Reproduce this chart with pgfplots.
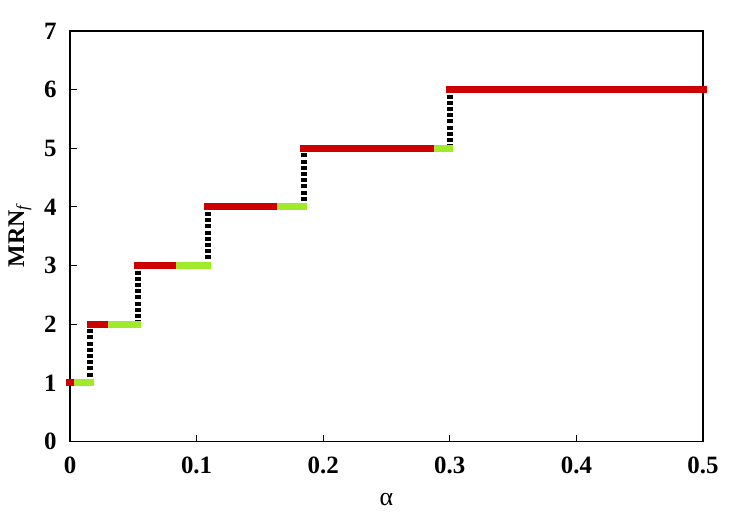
\documentclass[border=0pt]{standalone}
\usepackage{pgfplots}
\pgfplotsset{compat=1.18}
\usepackage{fontspec}
\setmainfont{Liberation Serif}
\definecolor{cred}{HTML}{CC0000}
\definecolor{cgreen}{HTML}{9FEB2A}
\begin{document}
\begin{tikzpicture}
\path[use as bounding box] (-70bp,-83.5bp) rectangle (680bp,441.5bp);
\begin{axis}[
  at={(0,0)}, anchor=south west,
  scale only axis, width=633bp, height=410.5bp,
  xmin=0, xmax=0.5, ymin=0, ymax=7,
  xtick={0,0.1,0.2,0.3,0.4,0.5},
  xticklabels={0,0.1,0.2,0.3,0.4,0.5},
  ytick={0,1,2,3,4,5,6,7},
  yticklabels={0,1,2,3,4,5,6,7},
  tick pos=left, tick align=inside, major tick length=7bp,
  axis line style={line width=1.2bp},
  every tick/.style={black, line width=1bp},
  tick label style={font=\fontsize{25}{25}\selectfont\bfseries},
  xticklabel style={yshift=-12bp},
  yticklabel style={xshift=-10bp},
  xlabel={α},
  xlabel style={font=\fontsize{26}{26}\selectfont, at={(axis description cs:0.5,0)}, anchor=center, yshift=-58bp},
  ylabel={\bfseries MRN\textsubscript{\normalfont\itshape f}},
  ylabel style={font=\fontsize{24}{24}\selectfont, at={(axis description cs:-0.0790,0.5)}, anchor=center},
  clip=false,
]
% transitions (dotted)
\addplot[black, line width=6bp, dash pattern=on 4bp off 2.2bp] coordinates {(0.016,1) (0.016,2)};
\addplot[black, line width=6bp, dash pattern=on 4bp off 2.2bp] coordinates {(0.0537,2) (0.0537,3)};
\addplot[black, line width=6bp, dash pattern=on 4bp off 2.2bp] coordinates {(0.1088,3) (0.1088,4)};
\addplot[black, line width=6bp, dash pattern=on 4bp off 2.2bp] coordinates {(0.1848,4) (0.1848,5)};
\addplot[black, line width=6bp, dash pattern=on 4bp off 2.2bp] coordinates {(0.3000,5) (0.3000,6)};
% green segments
\addplot[cgreen, line width=7bp, line cap=rect] coordinates {(0,1) (0.016,1)};
\addplot[cgreen, line width=7bp, line cap=rect] coordinates {(0.016,2) (0.0537,2)};
\addplot[cgreen, line width=7bp, line cap=rect] coordinates {(0.0537,3) (0.1088,3)};
\addplot[cgreen, line width=7bp, line cap=rect] coordinates {(0.1088,4) (0.1848,4)};
\addplot[cgreen, line width=7bp, line cap=rect] coordinates {(0.1848,5) (0.3000,5)};
% red segments
\addplot[cred, line width=7bp, line cap=rect] coordinates {(0,1) (0.0006,1)};
\addplot[cred, line width=7bp, line cap=rect] coordinates {(0.016,2) (0.0273,2)};
\addplot[cred, line width=7bp, line cap=rect] coordinates {(0.0537,3) (0.0810,3)};
\addplot[cred, line width=7bp, line cap=rect] coordinates {(0.1088,4) (0.1605,4)};
\addplot[cred, line width=7bp, line cap=rect] coordinates {(0.1848,5) (0.2848,5)};
\addplot[cred, line width=7bp, line cap=rect] coordinates {(0.3000,6) (0.5,6)};
\end{axis}
\end{tikzpicture}
\end{document}
